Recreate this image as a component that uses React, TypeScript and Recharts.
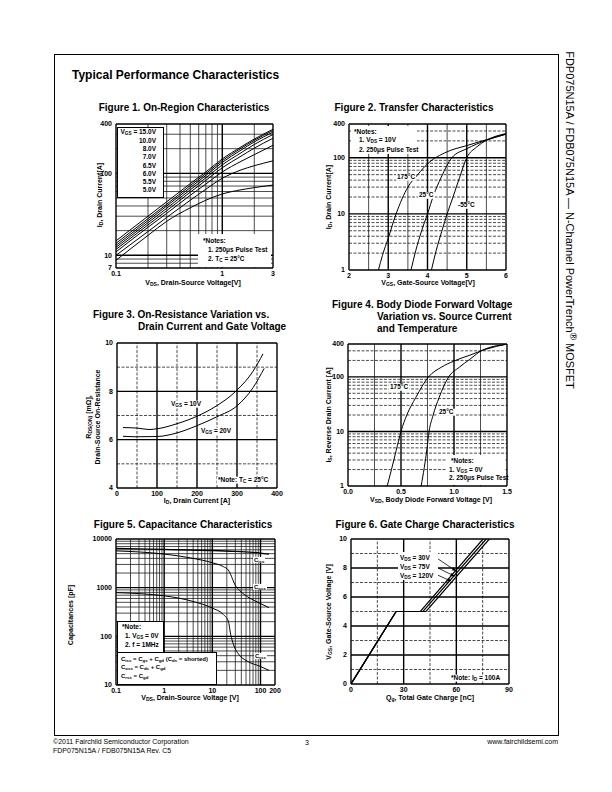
import React from 'react'
import { LineChart, Line, XAxis, YAxis, ReferenceLine } from 'recharts'

const FONT = '"Liberation Sans", Arial, Helvetica, sans-serif'

// Figure 1 - On-Region Characteristics (log-log)
const fig1Vds = [0.1, 0.2, 0.3, 0.5, 0.7, 1, 1.5, 2, 3]
const fig1Id15 = [15, 30, 45, 75, 104, 150, 210, 262, 345]
const fig1Id10 = [14, 28, 42, 71, 99, 143, 202, 253, 333]
const fig1Id8 = [13.2, 26.5, 40, 67, 94, 136, 192, 242, 318]
const fig1Id7 = [12.5, 25, 37.5, 63, 88, 127, 178, 225, 298]
const fig1Id65 = [11.8, 23.5, 35, 59, 82, 117, 162, 203, 268]
const fig1Id6 = [11, 22, 32.5, 54, 74, 104, 140, 169, 220]
const fig1Id55 = [10, 19.5, 29, 47, 64, 87, 110, 124, 142]
const fig1Id5 = [8.7, 17.5, 26, 38, 47, 56, 63, 67, 72]
const fig1Legend = ['10.0V', '8.0V', '7.0V', '6.5V', '6.0V', '5.5V', '5.0V']

// Figure 2 - Transfer Characteristics
const fig2Vgs175 = [2.75, 2.85, 3.0, 3.2, 3.5, 3.75, 4.0, 4.5, 5.0, 5.5, 6.0]
const fig2Id175 = [1, 1.8, 3.7, 10, 30, 50, 78, 128, 165, 210, 262]
const fig2Vgs25 = [3.58, 3.7, 3.85, 4.0, 4.15, 4.35, 4.62, 5.0, 5.5, 6.0]
const fig2Id25 = [1, 2.2, 5, 10, 21, 45, 100, 145, 205, 265]
const fig2VgsM55 = [4.1, 4.22, 4.36, 4.5, 4.65, 4.82, 5.0, 5.25, 5.5, 6.0]
const fig2IdM55 = [1, 2.2, 4.8, 10, 20, 45, 100, 155, 205, 270]

// Figure 3 - On-Resistance vs Drain Current
const fig3Id10 = [15, 50, 80, 100, 150, 200, 250, 300, 340, 365]
const fig3Rds10 = [6.5, 6.48, 6.42, 6.45, 6.66, 6.97, 7.41, 8.05, 8.83, 9.55]
const fig3Id20 = [15, 50, 100, 150, 200, 250, 300, 340, 368]
const fig3Rds20 = [6.14, 6.12, 6.13, 6.28, 6.58, 6.95, 7.4, 8.15, 8.95]

// Figure 4 - Body Diode Forward Voltage
const fig4Vsd175 = [0.37, 0.41, 0.455, 0.5, 0.555, 0.64, 0.76, 0.88, 1.0, 1.15, 1.3, 1.5]
const fig4Is175 = [1, 2, 4.5, 10, 20, 42, 100, 150, 195, 250, 320, 400]
const fig4Vsd25 = [0.69, 0.72, 0.745, 0.765, 0.8, 0.86, 0.95, 1.05, 1.15, 1.27, 1.5]
const fig4Is25 = [1, 2.2, 4.8, 10, 19, 42, 100, 150, 210, 310, 395]

// Figure 5 - Capacitance Characteristics
const fig5VdsIss = [0.1, 1, 10, 30, 100, 150]
const fig5Ciss = [6400, 6100, 5800, 5550, 5150, 4900]
const fig5VdsOss = [0.1, 1, 4, 10, 17, 21.5, 25, 29.5, 37.5, 60, 100, 150]
const fig5Coss = [5700, 4900, 4000, 3250, 2700, 2300, 1700, 1150, 860, 610, 470, 390]
const fig5VdsRss = [0.1, 1, 4, 10, 17, 21.5, 24, 27.5, 35, 50, 100, 150]
const fig5Crss = [790, 680, 520, 380, 280, 205, 110, 68, 43, 32, 24, 20]

// Figure 6 - Gate Charge Characteristics
const fig6Vgs = [0, 5, 5, 10]
const fig6Qg30 = [0, 25.7, 39.5, 75.2]
const fig6Qg75 = [0, 25.7, 41, 77]
const fig6Qg120 = [0, 25.7, 42.7, 78.8]
const fig6Arrows = [
  [{ x: 48.8, y: 8.69 }, { x: 60.1, y: 7.77 }],
  [{ x: 47.8, y: 8.11 }, { x: 59.2, y: 7.42 }],
  [{ x: 48.8, y: 7.54 }, { x: 57.3, y: 7.08 }],
]

const pts = (xs: number[], ys: number[]) => xs.map((x, i) => ({ x, y: ys[i] }))
const decade = (lo: number, hi: number) => {
  const out: number[] = []
  for (let d = lo; d < hi; d *= 10) for (let k = 2; k <= 9; k++) out.push(k * d)
  return out
}

const tickStyle = { fontSize: 7, fontWeight: 700, fill: '#000', fontFamily: FONT }

type Pt = { x: number; y: number }
type PlotProps = {
  box: [number, number, number, number]
  xDomain: [number, number]
  yDomain: [number, number]
  xLog?: boolean
  yLog?: boolean
  xTicks: number[]
  yTicks: number[]
  xFmt?: (v: number) => string
  xMinor: number[]
  xMajor: number[]
  yMinor: number[]
  yMajor: number[]
  xDash?: string
  yDash?: string
  series: { data: Pt[]; type?: 'monotone' | 'linear'; w?: number }[]
  arrows?: Pt[][]
}

const Arrow = (p: any) => {
  const { x1, y1, x2, y2 } = p
  const a = Math.atan2(y2 - y1, x2 - x1)
  const L = 4.5
  const W = 1.8
  const bx = x2 - L * Math.cos(a)
  const by = y2 - L * Math.sin(a)
  const poly = `${x2},${y2} ${bx - W * Math.sin(a)},${by + W * Math.cos(a)} ${bx + W * Math.sin(a)},${by - W * Math.cos(a)}`
  return (
    <g>
      <line x1={x1} y1={y1} x2={bx} y2={by} stroke="#000" strokeWidth={0.8} />
      <polygon points={poly} fill="#000" />
    </g>
  )
}

function Plot(p: PlotProps) {
  const [L, T, R, B] = p.box
  const minor = { stroke: '#111', strokeWidth: 0.75 }
  const major = { stroke: '#000', strokeWidth: 1.4 }
  return (
    <div style={{ position: 'absolute', left: L - 30, top: T - 8 }}>
      <LineChart width={R - L + 38} height={B - T + 24} margin={{ top: 8, right: 8, bottom: 0, left: 0 }}>
        <XAxis
          type="number"
          dataKey="x"
          scale={p.xLog ? 'log' : 'linear'}
          domain={p.xDomain}
          ticks={p.xTicks}
          allowDataOverflow
          interval={0}
          tickFormatter={p.xFmt || ((v: number) => String(v))}
          axisLine={false}
          tickLine={false}
          tickSize={0}
          tickMargin={3}
          height={16}
          tick={tickStyle}
        />
        <YAxis
          type="number"
          scale={p.yLog ? 'log' : 'linear'}
          domain={p.yDomain}
          ticks={p.yTicks}
          allowDataOverflow
          interval={0}
          axisLine={false}
          tickLine={false}
          tickSize={0}
          tickMargin={4}
          width={30}
          tick={tickStyle}
        />
        {p.xMinor.map((v) => (
          <ReferenceLine key={'xm' + v} x={v} {...minor} strokeDasharray={p.xDash} />
        ))}
        {p.yMinor.map((v) => (
          <ReferenceLine key={'ym' + v} y={v} {...minor} strokeDasharray={p.yDash} />
        ))}
        {p.xMajor.map((v) => (
          <ReferenceLine key={'xM' + v} x={v} {...major} />
        ))}
        {p.yMajor.map((v) => (
          <ReferenceLine key={'yM' + v} y={v} {...major} />
        ))}
        {p.series.map((s, i) => (
          <Line
            key={'s' + i}
            data={s.data}
            dataKey="y"
            type={s.type || 'monotone'}
            stroke="#000"
            strokeWidth={s.w || 1}
            dot={false}
            isAnimationActive={false}
          />
        ))}
        {(p.arrows || []).map((seg, i) => (
          <ReferenceLine key={'ar' + i} segment={seg} shape={Arrow} />
        ))}
        <ReferenceLine x={p.xDomain[0]} stroke="#000" strokeWidth={1.4} />
        <ReferenceLine x={p.xDomain[1]} stroke="#000" strokeWidth={1.4} />
        <ReferenceLine y={p.yDomain[0]} stroke="#000" strokeWidth={1.4} />
        <ReferenceLine y={p.yDomain[1]} stroke="#000" strokeWidth={1.4} />
      </LineChart>
    </div>
  )
}

const S = ({ c }: { c: string }) => (
  <span style={{ fontSize: '0.72em', position: 'relative', top: '0.28em' }}>{c}</span>
)

function T(props: {
  x: number
  y: number
  a?: 's' | 'm' | 'e'
  s?: number
  w?: number
  rot?: number
  bg?: boolean
  children: React.ReactNode
}) {
  const { x, y, a = 's', s = 7, w = 700, rot = 0, bg, children } = props
  const tx = a === 's' ? '0' : a === 'm' ? '-50%' : '-100%'
  return (
    <div
      style={{
        position: 'absolute',
        left: x,
        top: y,
        transform: `translate(${tx}, -50%)` + (rot ? ` rotate(${rot}deg)` : ''),
        fontSize: s,
        fontWeight: w,
        lineHeight: 1,
        whiteSpace: 'nowrap',
        background: bg ? '#fff' : 'transparent',
        padding: bg ? '0 1px' : 0,
      }}
    >
      {children}
    </div>
  )
}

const Box = ({ l, t, r, b, border }: { l: number; t: number; r: number; b: number; border?: number }) => (
  <div
    style={{
      position: 'absolute',
      left: l,
      top: t,
      width: r - l,
      height: b - t,
      background: '#fff',
      border: border ? `${border}px solid #000` : 'none',
      boxSizing: 'border-box',
    }}
  />
)

const logMinor = (lo: number, hi: number, skip: number[]) => decade(lo, hi).filter((v) => !skip.includes(v) && v < hi)

export default function App() {
  return (
    <div
      style={{
        position: 'absolute',
        left: 0,
        top: 0,
        width: 612,
        height: 792,
        background: '#fff',
        fontFamily: FONT,
        color: '#000',
        overflow: 'hidden',
      }}
    >
      <div style={{ position: 'absolute', left: 54, top: 54, width: 505, height: 682, border: '1px solid #000', boxSizing: 'border-box' }} />
      <T x={72} y={74.5} s={12}>Typical Performance Characteristics</T>

      <T x={569} y={220} a="m" s={11} w={400} rot={90}>
        FDP075N15A / FDB075N15A — N-Channel PowerTrench
        <span style={{ fontSize: '0.9em', position: 'relative', top: '-0.45em' }}>®</span> MOSFET
      </T>

      {/* Figure 1 */}
      <T x={184} y={108} a="m" s={10}>Figure 1. On-Region Characteristics</T>
      <Plot
        box={[116, 124, 273, 268]}
        xDomain={[0.1, 3]}
        yDomain={[7, 400]}
        xLog
        yLog
        xTicks={[0.1, 1, 3]}
        yTicks={[7, 10, 100, 400]}
        xMinor={[0.2, 0.3, 0.4, 0.5, 0.6, 0.7, 0.8, 0.9, 2]}
        xMajor={[1]}
        yMinor={[8, 9, 20, 30, 40, 50, 60, 70, 80, 90, 200, 300]}
        yMajor={[10, 100]}
        series={[fig1Id15, fig1Id10, fig1Id8, fig1Id7, fig1Id65, fig1Id6, fig1Id55, fig1Id5].map((ys) => ({
          data: pts(fig1Vds, ys),
        }))}
      />
      <Box l={117} t={127} r={164} b={198} border={1.5} />
      <T x={156} y={131.5} a="e" s={6.5}>
        V<S c="GS" /> = 15.0V
      </T>
      {fig1Legend.map((t, i) => (
        <T key={t} x={156} y={141 + i * 8.2} a="e" s={6.5}>
          {t}
        </T>
      ))}
      <Box l={198} t={234} r={270.5} b={267} />
      <T x={203} y={241} s={6.5}>*Notes:</T>
      <T x={208} y={250} s={6.5}>1. 250{'\u03bc'}s Pulse Test</T>
      <T x={208} y={259} s={6.5}>
        2. T<S c="C" /> = 25°C
      </T>
      <T x={100} y={195} a="m" rot={-90}>
        I<S c="D" />, Drain Current[A]
      </T>
      <T x={193} y={283} a="m">
        V<S c="DS" />, Drain-Source Voltage[V]
      </T>

      {/* Figure 2 */}
      <T x={414} y={108} a="m" s={10}>Figure 2. Transfer Characteristics</T>
      <Plot
        box={[349, 124, 506, 270]}
        xDomain={[2, 6]}
        yDomain={[1, 400]}
        yLog
        xTicks={[2, 3, 4, 5, 6]}
        yTicks={[1, 10, 100, 400]}
        xMinor={[2.5, 3.5, 4.5, 5.5]}
        xMajor={[3, 4, 5]}
        yMinor={logMinor(1, 400, [10, 100])}
        yMajor={[10, 100]}
        yDash="3 1.5"
        series={[
          { data: pts(fig2Vgs175, fig2Id175) },
          { data: pts(fig2Vgs25, fig2Id25) },
          { data: pts(fig2VgsM55, fig2IdM55) },
        ]}
      />
      <Box l={351} t={126} r={417} b={154} />
      <T x={354} y={131.5} s={6.5}>*Notes:</T>
      <T x={359} y={140} s={6.5}>
        1. V<S c="DS" /> = 10V
      </T>
      <T x={359} y={149.5} s={6.5}>2. 250{'\u03bc'}s Pulse Test</T>
      <T x={396} y={177} s={6.5} bg>175°C</T>
      <T x={418} y={195} s={6.5} bg>25°C</T>
      <T x={457} y={205} s={6.5} bg>-55°C</T>
      <T x={329} y={197} a="m" rot={-90}>
        I<S c="D" />, Drain Current[A]
      </T>
      <T x={428} y={283} a="m">
        V<S c="GS" />, Gate-Source Voltage[V]
      </T>

      {/* Figure 3 */}
      <T x={93} y={315} s={10}>Figure 3. On-Resistance Variation vs.</T>
      <T x={138} y={327} s={10}>Drain Current and Gate Voltage</T>
      <Plot
        box={[117, 343, 277, 488]}
        xDomain={[0, 400]}
        yDomain={[4, 10]}
        xTicks={[0, 100, 200, 300, 400]}
        yTicks={[4, 6, 8, 10]}
        xMinor={[50, 150, 250, 350]}
        xMajor={[100, 200, 300]}
        yMinor={[5, 7, 9]}
        yMajor={[6, 8]}
        xDash="3 1.5"
        yDash="3 1.5"
        series={[{ data: pts(fig3Id10, fig3Rds10) }, { data: pts(fig3Id20, fig3Rds20) }]}
      />
      <T x={170} y={404} s={6.5} bg>
        V<S c="GS" /> = 10V
      </T>
      <T x={200} y={431} s={6.5} bg>
        V<S c="GS" /> = 20V
      </T>
      <T x={217} y={480} s={6.5} bg>
        *Note: T<S c="C" /> = 25°C
      </T>
      <T x={89} y={417} a="m" rot={-90}>
        R<S c="DS(ON)" /> [m{'\u03a9'}],
      </T>
      <T x={96.5} y={417} a="m" rot={-90}>
        Drain-Source On-Resistance
      </T>
      <T x={197} y={501} a="m">
        I<S c="D" />, Drain Current [A]
      </T>

      {/* Figure 4 */}
      <T x={332} y={304.5} s={10}>Figure 4. Body Diode Forward Voltage</T>
      <T x={377} y={316.5} s={10}>Variation vs. Source Current</T>
      <T x={377} y={328.5} s={10}>and Temperature</T>
      <Plot
        box={[348, 344, 507, 486]}
        xDomain={[0, 1.5]}
        yDomain={[1, 400]}
        yLog
        xTicks={[0, 0.5, 1, 1.5]}
        yTicks={[1, 10, 100, 400]}
        xFmt={(v) => v.toFixed(1)}
        xMinor={[0.25, 0.75, 1.25]}
        xMajor={[0.5, 1]}
        yMinor={logMinor(1, 400, [10, 100])}
        yMajor={[10, 100]}
        yDash="3 1.5"
        series={[{ data: pts(fig4Vsd175, fig4Is175) }, { data: pts(fig4Vsd25, fig4Is25) }]}
      />
      <T x={389} y={387} s={6.5} bg>175°C</T>
      <T x={438} y={412} s={6.5} bg>25°C</T>
      <Box l={447} t={455} r={505} b={485} />
      <T x={451} y={461} s={6.5}>*Notes:</T>
      <T x={449} y={469.5} s={6.5}>
        1. V<S c="GS" /> = 0V
      </T>
      <T x={449} y={478} s={6.5}>2. 250{'\u03bc'}s Pulse Test</T>
      <T x={329} y={415} a="m" rot={-90}>
        I<S c="S" />, Reverse Drain Current [A]
      </T>
      <T x={431} y={500} a="m">
        V<S c="SD" />, Body Diode Forward Voltage [V]
      </T>

      {/* Figure 5 */}
      <T x={183} y={525} a="m" s={10}>Figure 5. Capacitance Characteristics</T>
      <Plot
        box={[116, 539, 275, 685]}
        xDomain={[0.1, 200]}
        yDomain={[10, 10000]}
        xLog
        yLog
        xTicks={[0.1, 1, 10, 100, 200]}
        yTicks={[10, 100, 1000, 10000]}
        xMinor={logMinor(0.1, 100, [1, 10])}
        xMajor={[1, 10, 100]}
        yMinor={logMinor(10, 10000, [100, 1000])}
        yMajor={[100, 1000]}
        series={[
          { data: pts(fig5VdsIss, fig5Ciss), w: 1.3 },
          { data: pts(fig5VdsOss, fig5Coss) },
          { data: pts(fig5VdsRss, fig5Crss) },
        ]}
      />
      <T x={253} y={560} s={6} bg>
        C<S c="iss" />
      </T>
      <T x={253} y={587} s={6} bg>
        C<S c="oss" />
      </T>
      <T x={254} y={656} s={6} bg>
        C<S c="rss" />
      </T>
      <Box l={117} t={621} r={164} b={653} border={1} />
      <T x={122} y={627} s={6.5}>*Note:</T>
      <T x={125} y={635.5} s={6.5}>
        1. V<S c="GS" /> = 0V
      </T>
      <T x={125} y={644.5} s={6.5}>2. f = 1MHz</T>
      <Box l={117} t={652} r={217} b={685} border={1} />
      <T x={121} y={658.5} s={6}>
        C<S c="iss" /> = C<S c="gs" /> + C<S c="gd" /> (C<S c="ds" /> = shorted)
      </T>
      <T x={121} y={667} s={6}>
        C<S c="oss" /> = C<S c="ds" /> + C<S c="gd" />
      </T>
      <T x={121} y={675.5} s={6}>
        C<S c="rss" /> = C<S c="gd" />
      </T>
      <T x={70} y={615} a="m" rot={-90}>
        Capacitances [pF]
      </T>
      <T x={190} y={698} a="m">
        V<S c="DS" />, Drain-Source Voltage [V]
      </T>

      {/* Figure 6 */}
      <T x={425} y={525} a="m" s={10}>Figure 6. Gate Charge Characteristics</T>
      <Plot
        box={[351, 539, 509, 684]}
        xDomain={[0, 90]}
        yDomain={[0, 10]}
        xTicks={[0, 30, 60, 90]}
        yTicks={[0, 2, 4, 6, 8, 10]}
        xMinor={[15, 45, 75]}
        xMajor={[30, 60]}
        yMinor={[1, 3, 5, 7, 9]}
        yMajor={[2, 4, 6, 8]}
        xDash="3 1.5"
        yDash="3 1.5"
        series={[
          { data: pts(fig6Qg30, fig6Vgs), type: 'linear', w: 1.2 },
          { data: pts(fig6Qg75, fig6Vgs), type: 'linear', w: 1.2 },
          { data: pts(fig6Qg120, fig6Vgs), type: 'linear', w: 1.2 },
        ]}
        arrows={fig6Arrows}
      />
      <Box l={398} t={552} r={438} b={580} />
      <T x={400} y={557.5} s={6.5}>
        V<S c="DS" /> = 30V
      </T>
      <T x={400} y={566.5} s={6.5}>
        V<S c="DS" /> = 75V
      </T>
      <T x={400} y={575.5} s={6.5}>
        V<S c="DS" /> = 120V
      </T>
      <T x={450} y={678} s={6.5} bg>
        *Note: I<S c="D" /> = 100A
      </T>
      <T x={329} y={612} a="m" rot={-90}>
        V<S c="GS" />, Gate-Source Voltage [V]
      </T>
      <T x={430} y={698} a="m">
        Q<S c="g" />, Total Gate Charge [nC]
      </T>

      {/* footer */}
      <T x={53} y={741} s={7} w={400}>©2011 Fairchild Semiconductor Corporation</T>
      <T x={53} y={750} s={7} w={400}>FDP075N15A / FDB075N15A Rev. C5</T>
      <T x={307} y={742} a="m" s={7} w={400}>3</T>
      <T x={558} y={741} a="e" s={7} w={400}>www.fairchildsemi.com</T>
    </div>
  )
}
